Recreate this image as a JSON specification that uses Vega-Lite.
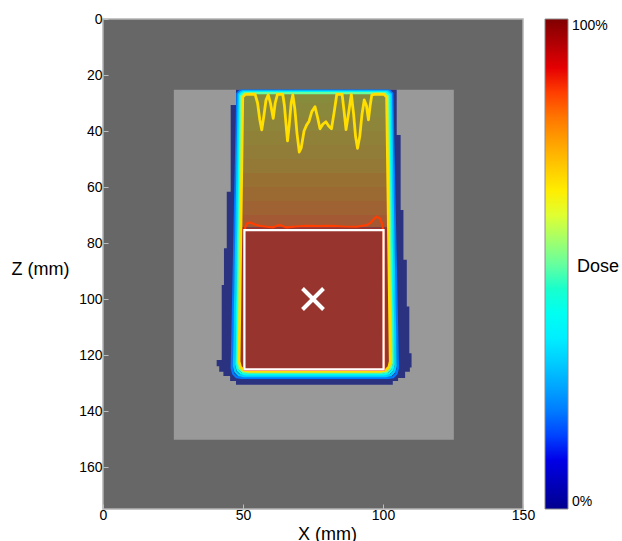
{
  "$schema": "https://vega.github.io/schema/vega-lite/v6.json",
  "width": 420,
  "height": 490,
  "autosize": "none",
  "padding": {"left": 103, "top": 19, "right": 99, "bottom": 32},
  "background": "white",
  "config": {
    "font": "Liberation Sans",
    "view": {"stroke": "#b4b4b4", "strokeWidth": 1.5, "fill": "#676767"},
    "axis": {
      "labelFont": "Liberation Sans", "labelFontSize": 14, "labelColor": "#000000",
      "titleFont": "Liberation Sans", "titleFontSize": 18, "titleFontWeight": "normal", "titleColor": "#000000",
      "domain": false, "grid": false, "tickColor": "#bdbdbd", "tickSize": -5, "labelPadding": 4, "labelFlush": false
    },
    "legend": {
      "labelFont": "Liberation Sans", "labelFontSize": 14, "labelColor": "#000000",
      "titleFont": "Liberation Sans", "titleFontSize": 18, "titleFontWeight": "normal", "titleColor": "#000000"
    }
  },
  "datasets": {
    "phantom": [{"x": 25.3, "x2": 125.3, "z": 25.3, "z2": 150.3}],
    "navy": [
      {"z": 25.3, "xl": 47.5, "xr": 104.9},
      {"z": 30.7, "xl": 45.6, "xr": 104.9},
      {"z": 41.4, "xl": 45.6, "xr": 106.3},
      {"z": 61.7, "xl": 44.2, "xr": 106.3},
      {"z": 68.2, "xl": 44.2, "xr": 107.3},
      {"z": 81.9, "xl": 43.2, "xr": 107.3},
      {"z": 86.0, "xl": 43.2, "xr": 108.5},
      {"z": 95.0, "xl": 42.4, "xr": 108.5},
      {"z": 102.7, "xl": 42.4, "xr": 109.4},
      {"z": 119.4, "xl": 42.4, "xr": 110.2},
      {"z": 121.8, "xl": 40.6, "xr": 110.2},
      {"z": 124.0, "xl": 41.5, "xr": 110.2},
      {"z": 124.5, "xl": 41.5, "xr": 109.6},
      {"z": 126.0, "xl": 43.0, "xr": 107.9},
      {"z": 127.5, "xl": 45.4, "xr": 107.9},
      {"z": 128.2, "xl": 45.4, "xr": 105.4},
      {"z": 129.3, "xl": 47.5, "xr": 103.5},
      {"z": 130.6, "xl": 47.5, "xr": 103.5}
    ],
    "fills": [
      {"x": 49.4, "x2": 101.9, "z": 26.0, "z2": 30.0, "dose": 56},
      {"x": 49.4, "x2": 101.9, "z": 30.0, "z2": 35.0, "dose": 58},
      {"x": 49.4, "x2": 101.9, "z": 35.0, "z2": 40.0, "dose": 60},
      {"x": 49.3, "x2": 102.0, "z": 40.0, "z2": 45.0, "dose": 62},
      {"x": 49.3, "x2": 102.0, "z": 45.0, "z2": 50.0, "dose": 64},
      {"x": 49.2, "x2": 102.1, "z": 50.0, "z2": 55.0, "dose": 66},
      {"x": 49.2, "x2": 102.1, "z": 55.0, "z2": 60.0, "dose": 69},
      {"x": 49.1, "x2": 102.2, "z": 60.0, "z2": 65.0, "dose": 72},
      {"x": 49.1, "x2": 102.2, "z": 65.0, "z2": 70.0, "dose": 76},
      {"x": 49.0, "x2": 102.3, "z": 70.0, "z2": 74.5, "dose": 80},
      {"x": 48.7, "x2": 102.5, "z": 74.5, "z2": 125.9, "dose": 96}
    ],
    "contours": [
      {"dose": 20, "i": 1, "x": 49.0, "z": 25.6},
      {"dose": 20, "i": 2, "x": 102.3, "z": 25.6},
      {"dose": 20, "i": 3, "x": 103.3, "z": 26.6},
      {"dose": 20, "i": 4, "x": 105.3, "z": 124.7},
      {"dose": 20, "i": 5, "x": 104.8, "z": 126.7},
      {"dose": 20, "i": 6, "x": 103.6, "z": 127.9},
      {"dose": 20, "i": 7, "x": 101.8, "z": 128.2},
      {"dose": 20, "i": 8, "x": 49.5, "z": 128.2},
      {"dose": 20, "i": 9, "x": 47.7, "z": 127.9},
      {"dose": 20, "i": 10, "x": 46.5, "z": 126.7},
      {"dose": 20, "i": 11, "x": 46.0, "z": 124.7},
      {"dose": 20, "i": 12, "x": 48.0, "z": 26.6},
      {"dose": 20, "i": 13, "x": 49.0, "z": 25.6},
      {"dose": 30, "i": 1, "x": 49.5, "z": 25.9},
      {"dose": 30, "i": 2, "x": 101.8, "z": 25.9},
      {"dose": 30, "i": 3, "x": 102.8, "z": 26.9},
      {"dose": 30, "i": 4, "x": 104.5, "z": 124.0},
      {"dose": 30, "i": 5, "x": 104.0, "z": 126.0},
      {"dose": 30, "i": 6, "x": 102.8, "z": 127.2},
      {"dose": 30, "i": 7, "x": 101.0, "z": 127.5},
      {"dose": 30, "i": 8, "x": 50.3, "z": 127.5},
      {"dose": 30, "i": 9, "x": 48.5, "z": 127.2},
      {"dose": 30, "i": 10, "x": 47.3, "z": 126.0},
      {"dose": 30, "i": 11, "x": 46.8, "z": 124.0},
      {"dose": 30, "i": 12, "x": 48.5, "z": 26.9},
      {"dose": 30, "i": 13, "x": 49.5, "z": 25.9},
      {"dose": 40, "i": 1, "x": 50.0, "z": 26.2},
      {"dose": 40, "i": 2, "x": 101.3, "z": 26.2},
      {"dose": 40, "i": 3, "x": 102.3, "z": 27.2},
      {"dose": 40, "i": 4, "x": 103.8, "z": 123.4},
      {"dose": 40, "i": 5, "x": 103.3, "z": 125.4},
      {"dose": 40, "i": 6, "x": 102.1, "z": 126.6},
      {"dose": 40, "i": 7, "x": 100.3, "z": 126.9},
      {"dose": 40, "i": 8, "x": 51.1, "z": 126.9},
      {"dose": 40, "i": 9, "x": 49.3, "z": 126.6},
      {"dose": 40, "i": 10, "x": 48.1, "z": 125.4},
      {"dose": 40, "i": 11, "x": 47.6, "z": 123.4},
      {"dose": 40, "i": 12, "x": 49.0, "z": 27.2},
      {"dose": 40, "i": 13, "x": 50.0, "z": 26.2},
      {"dose": 50, "i": 1, "x": 50.4, "z": 26.5},
      {"dose": 50, "i": 2, "x": 100.8, "z": 26.5},
      {"dose": 50, "i": 3, "x": 101.8, "z": 27.5},
      {"dose": 50, "i": 4, "x": 103.2, "z": 122.8},
      {"dose": 50, "i": 5, "x": 102.7, "z": 124.8},
      {"dose": 50, "i": 6, "x": 101.5, "z": 126.0},
      {"dose": 50, "i": 7, "x": 99.7, "z": 126.3},
      {"dose": 50, "i": 8, "x": 51.6, "z": 126.3},
      {"dose": 50, "i": 9, "x": 49.8, "z": 126.0},
      {"dose": 50, "i": 10, "x": 48.6, "z": 124.8},
      {"dose": 50, "i": 11, "x": 48.1, "z": 122.8},
      {"dose": 50, "i": 12, "x": 49.4, "z": 27.5},
      {"dose": 50, "i": 13, "x": 50.4, "z": 26.5},
      {"dose": 67, "i": 1, "x": 50.9, "z": 26.9},
      {"dose": 67, "i": 2, "x": 54.3, "z": 26.8},
      {"dose": 67, "i": 3, "x": 55.2, "z": 30.0},
      {"dose": 67, "i": 4, "x": 56.0, "z": 36.0},
      {"dose": 67, "i": 5, "x": 56.7, "z": 39.6},
      {"dose": 67, "i": 6, "x": 57.4, "z": 35.0},
      {"dose": 67, "i": 7, "x": 58.2, "z": 29.0},
      {"dose": 67, "i": 8, "x": 59.0, "z": 27.1},
      {"dose": 67, "i": 9, "x": 59.8, "z": 30.0},
      {"dose": 67, "i": 10, "x": 60.8, "z": 35.5},
      {"dose": 67, "i": 11, "x": 61.5, "z": 30.0},
      {"dose": 67, "i": 12, "x": 62.3, "z": 26.9},
      {"dose": 67, "i": 13, "x": 64.2, "z": 26.9},
      {"dose": 67, "i": 14, "x": 64.8, "z": 31.0},
      {"dose": 67, "i": 15, "x": 65.4, "z": 38.0},
      {"dose": 67, "i": 16, "x": 65.9, "z": 43.5},
      {"dose": 67, "i": 17, "x": 66.5, "z": 38.0},
      {"dose": 67, "i": 18, "x": 67.2, "z": 30.0},
      {"dose": 67, "i": 19, "x": 67.8, "z": 27.1},
      {"dose": 67, "i": 20, "x": 68.5, "z": 32.0},
      {"dose": 67, "i": 21, "x": 69.3, "z": 41.0},
      {"dose": 67, "i": 22, "x": 70.1, "z": 47.5},
      {"dose": 67, "i": 23, "x": 70.8, "z": 46.0},
      {"dose": 67, "i": 24, "x": 71.8, "z": 40.0},
      {"dose": 67, "i": 25, "x": 72.7, "z": 37.9},
      {"dose": 67, "i": 26, "x": 73.6, "z": 36.5},
      {"dose": 67, "i": 27, "x": 74.6, "z": 33.0},
      {"dose": 67, "i": 28, "x": 75.7, "z": 31.3},
      {"dose": 67, "i": 29, "x": 76.6, "z": 35.0},
      {"dose": 67, "i": 30, "x": 77.5, "z": 39.2},
      {"dose": 67, "i": 31, "x": 78.5, "z": 37.6},
      {"dose": 67, "i": 32, "x": 79.6, "z": 36.7},
      {"dose": 67, "i": 33, "x": 80.6, "z": 38.2},
      {"dose": 67, "i": 34, "x": 81.6, "z": 39.2},
      {"dose": 67, "i": 35, "x": 82.6, "z": 33.0},
      {"dose": 67, "i": 36, "x": 83.5, "z": 26.9},
      {"dose": 67, "i": 37, "x": 85.4, "z": 26.9},
      {"dose": 67, "i": 38, "x": 86.1, "z": 33.0},
      {"dose": 67, "i": 39, "x": 86.8, "z": 39.5},
      {"dose": 67, "i": 40, "x": 87.8, "z": 33.0},
      {"dose": 67, "i": 41, "x": 88.7, "z": 26.9},
      {"dose": 67, "i": 42, "x": 89.5, "z": 34.0},
      {"dose": 67, "i": 43, "x": 90.2, "z": 42.0},
      {"dose": 67, "i": 44, "x": 90.9, "z": 46.2},
      {"dose": 67, "i": 45, "x": 91.7, "z": 42.0},
      {"dose": 67, "i": 46, "x": 92.5, "z": 34.0},
      {"dose": 67, "i": 47, "x": 93.3, "z": 28.9},
      {"dose": 67, "i": 48, "x": 94.1, "z": 31.0},
      {"dose": 67, "i": 49, "x": 94.8, "z": 36.0},
      {"dose": 67, "i": 50, "x": 95.4, "z": 31.0},
      {"dose": 67, "i": 51, "x": 96.0, "z": 27.1},
      {"dose": 67, "i": 52, "x": 97.5, "z": 26.8},
      {"dose": 67, "i": 53, "x": 100.3, "z": 26.9},
      {"dose": 67, "i": 54, "x": 101.3, "z": 27.9},
      {"dose": 67, "i": 55, "x": 102.6, "z": 122.3},
      {"dose": 67, "i": 56, "x": 102.1, "z": 124.3},
      {"dose": 67, "i": 57, "x": 100.9, "z": 125.5},
      {"dose": 67, "i": 58, "x": 99.1, "z": 125.8},
      {"dose": 67, "i": 59, "x": 52.1, "z": 125.8},
      {"dose": 67, "i": 60, "x": 50.3, "z": 125.5},
      {"dose": 67, "i": 61, "x": 49.1, "z": 124.3},
      {"dose": 67, "i": 62, "x": 48.6, "z": 122.3},
      {"dose": 67, "i": 63, "x": 49.9, "z": 27.9},
      {"dose": 67, "i": 64, "x": 50.9, "z": 26.9},
      {"dose": 85, "i": 1, "x": 50.5, "z": 76.0},
      {"dose": 85, "i": 2, "x": 50.9, "z": 74.0},
      {"dose": 85, "i": 3, "x": 51.5, "z": 73.0},
      {"dose": 85, "i": 4, "x": 52.5, "z": 72.7},
      {"dose": 85, "i": 5, "x": 54.3, "z": 73.4},
      {"dose": 85, "i": 6, "x": 56.0, "z": 73.9},
      {"dose": 85, "i": 7, "x": 58.5, "z": 74.2},
      {"dose": 85, "i": 8, "x": 60.8, "z": 74.4},
      {"dose": 85, "i": 9, "x": 62.2, "z": 73.8},
      {"dose": 85, "i": 10, "x": 63.2, "z": 73.6},
      {"dose": 85, "i": 11, "x": 64.5, "z": 74.1},
      {"dose": 85, "i": 12, "x": 65.6, "z": 74.4},
      {"dose": 85, "i": 13, "x": 69.0, "z": 74.1},
      {"dose": 85, "i": 14, "x": 72.7, "z": 73.9},
      {"dose": 85, "i": 15, "x": 77.0, "z": 74.0},
      {"dose": 85, "i": 16, "x": 81.5, "z": 73.9},
      {"dose": 85, "i": 17, "x": 86.0, "z": 74.1},
      {"dose": 85, "i": 18, "x": 90.6, "z": 74.2},
      {"dose": 85, "i": 19, "x": 94.2, "z": 73.6},
      {"dose": 85, "i": 20, "x": 95.6, "z": 72.8},
      {"dose": 85, "i": 21, "x": 96.6, "z": 71.6},
      {"dose": 85, "i": 22, "x": 97.7, "z": 70.6},
      {"dose": 85, "i": 23, "x": 98.9, "z": 71.2},
      {"dose": 85, "i": 24, "x": 99.6, "z": 73.0},
      {"dose": 85, "i": 25, "x": 100.1, "z": 75.5},
      {"dose": 85, "i": 26, "x": 100.4, "z": 125.3},
      {"dose": 85, "i": 27, "x": 50.4, "z": 125.3},
      {"dose": 85, "i": 28, "x": 50.5, "z": 76.0}
    ],
    "target": [{"x": 50.5, "x2": 100.2, "z": 75.4, "z2": 125.1}],
    "isocenter": [{"x": 75, "z": 100}]
  },
  "layer": [
    {
      "data": {"name": "phantom"},
      "mark": {"type": "rect", "color": "#999999"},
      "encoding": {
        "x": {"field": "x", "type": "quantitative", "scale": {"domain": [0, 150], "nice": false, "zero": false},
              "axis": {"title": "X (mm)", "values": [0, 50, 100, 150], "titleX": 224, "titleY": 16, "titleBaseline": "top"}},
        "x2": {"field": "x2"},
        "y": {"field": "z", "type": "quantitative", "scale": {"domain": [0, 175], "nice": false, "zero": false, "reverse": true},
              "axis": {"title": "Z (mm)", "values": [0, 20, 40, 60, 80, 100, 120, 140, 160], "titleAngle": 360, "titleX": -92, "titleY": 250, "titleAlign": "left", "titleBaseline": "middle", "labelPadding": 6}},
        "y2": {"field": "z2"}
      }
    },
    {
      "data": {"name": "navy"},
      "mark": {"type": "area", "orient": "horizontal", "interpolate": "step-before", "color": "#2b3381"},
      "encoding": {
        "y": {"field": "z", "type": "quantitative"},
        "x": {"field": "xl", "type": "quantitative", "stack": null},
        "x2": {"field": "xr"}
      }
    },
    {
      "data": {"name": "fills"},
      "mark": {"type": "rect"},
      "encoding": {
        "x": {"field": "x", "type": "quantitative"},
        "x2": {"field": "x2"},
        "y": {"field": "z", "type": "quantitative"},
        "y2": {"field": "z2"},
        "fill": {"field": "dose", "type": "quantitative", "legend": null,
                 "scale": {"domain": [56, 64, 72, 80, 96], "range": ["#878c3c", "#917d37", "#9b6932", "#a35a34", "#98342e"]}}
      }
    },
    {
      "data": {"name": "contours"},
      "encoding": {
        "x": {"field": "x", "type": "quantitative"},
        "y": {"field": "z", "type": "quantitative"},
        "order": {"field": "i", "type": "quantitative"},
        "detail": {"field": "dose", "type": "nominal"},
        "stroke": {"field": "dose", "type": "quantitative",
                   "scale": {"domain": [0, 12.5, 37.5, 62.5, 87.5, 100],
                             "range": ["#00008f", "#0000ff", "#00ffff", "#ffff00", "#ff0000", "#800000"]},
                   "legend": {"type": "gradient", "title": "Dose", "values": [0, 100], "labelExpr": "datum.value + '%'",
                              "direction": "vertical", "orient": "right", "offset": 22, "padding": 0,
                              "gradientLength": 490, "gradientThickness": 23,
                              "gradientStrokeColor": "#8c8c8c", "gradientStrokeWidth": 1,
                              "labelOffset": 4, "titleOrient": "right", "titleAnchor": "middle",
                              "titleBaseline": "middle", "titleAlign": "left", "titlePadding": -31,
                              "encode": {"title": {"update": {"angle": {"value": 0}, "align": {"value": "left"}, "baseline": {"value": "middle"}, "dy": {"value": 3}}}}}}
      },
      "layer": [
        {"transform": [{"filter": "datum.dose < 60"}], "mark": {"type": "line", "strokeWidth": 2.3, "strokeJoin": "round"}},
        {"transform": [{"filter": "datum.dose == 67"}], "mark": {"type": "line", "strokeWidth": 2.8, "strokeJoin": "round"}},
        {"transform": [{"filter": "datum.dose == 85"}], "mark": {"type": "line", "strokeWidth": 2.2, "strokeJoin": "round"}}
      ]
    },
    {
      "data": {"name": "target"},
      "mark": {"type": "rect", "fillOpacity": 0, "stroke": "#ffffff", "strokeWidth": 2.2},
      "encoding": {
        "x": {"field": "x", "type": "quantitative"},
        "x2": {"field": "x2"},
        "y": {"field": "z", "type": "quantitative"},
        "y2": {"field": "z2"}
      }
    },
    {
      "data": {"name": "isocenter"},
      "mark": {"type": "point", "shape": "M-1,-1L1,1M-1,1L1,-1", "size": 440, "filled": false, "stroke": "#ffffff", "strokeWidth": 4, "opacity": 1, "strokeCap": "butt"},
      "encoding": {
        "x": {"field": "x", "type": "quantitative"},
        "y": {"field": "z", "type": "quantitative"}
      }
    }
  ]
}
